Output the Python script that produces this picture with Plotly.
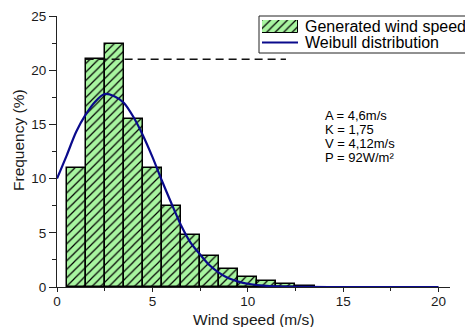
import plotly.graph_objects as go

# ---- data ----
bin_centers = [1, 2, 3, 4, 5, 6, 7, 8, 9, 10, 11, 12, 13]
frequency = [11.0, 21.0, 22.4, 15.5, 11.0, 7.5, 4.8, 2.9, 1.7, 0.95, 0.58, 0.25, 0.07]

curve_x = [0, 0.5, 1.0, 1.5, 2.0, 2.5, 3.0, 3.5, 4.0, 4.5, 5.0, 5.5, 6.0, 6.5, 7.0,
           7.5, 8.0, 8.5, 9.0, 9.5, 10, 11, 12, 13, 15, 20]
curve_y = [10.0, 12.1, 14.3, 15.9, 17.1, 17.8, 17.6, 17.0, 15.7, 14.0, 12.0, 9.8, 7.7,
           5.7, 4.1, 3.0, 2.0, 1.3, 0.8, 0.5, 0.3, 0.1, 0.04, 0.01, 0, 0]

ref_x = [1.5, 12.0]
ref_y = [21, 21]

legend_labels = ["Generated wind speed", "Weibull distribution"]
param_lines = ["A = 4,6m/s", "K = 1,75", "V = 4,12m/s", "P = 92W/m²"]
x_title = "Wind speed (m/s)"
y_title = "Frequency (%)"

# ---- layout geometry (pixels) ----
W, H = 465, 327
L, R, T, B = 57, 15, 16, 40
PW, PH = W - L - R, H - T - B


def px_x(p):
    return (p - L) / PW


def px_y(p):
    return (H - B - p) / PH


FONT = "Liberation Sans, Arial, sans-serif"
GREEN = "#A8F5A0"
NAVY = "#0A0A8C"

fig = go.Figure()

fig.add_trace(go.Bar(
    x=bin_centers, y=frequency, width=1.0,
    marker=dict(color=GREEN, line=dict(color="black", width=1.5),
                pattern=dict(shape="/", fgcolor="black", bgcolor=GREEN,
                             size=6, solidity=0.2, fillmode="replace")),
    showlegend=False,
))

fig.add_trace(go.Scatter(
    x=ref_x, y=ref_y, mode="lines",
    line=dict(color="#111111", width=1.5, dash="8px,5px"),
    showlegend=False,
))

fig.add_trace(go.Scatter(
    x=curve_x, y=curve_y, mode="lines",
    line=dict(color=NAVY, width=2.2, shape="spline", smoothing=0.8),
    showlegend=False,
))

# legend swatch (hatched bar) on its own small axes
sw_x0, sw_x1 = 262, 298
sw_y0, sw_y1 = 20, 33
fig.add_trace(go.Bar(
    x=[0], y=[1], width=1.0, xaxis="x2", yaxis="y2",
    marker=dict(color=GREEN, line=dict(color="black", width=1),
                pattern=dict(shape="/", fgcolor="black", bgcolor=GREEN,
                             size=6, solidity=0.2, fillmode="replace")),
    showlegend=False, hoverinfo="skip",
))

axis_common = dict(
    showline=True, linecolor="#222222", linewidth=1,
    showgrid=False, zeroline=False,
    ticks="outside", tickcolor="#222222", tickwidth=1,
    tickfont=dict(family=FONT, size=13.5, color="#1a1a1a"),
)

fig.update_layout(
    width=W, height=H,
    margin=dict(l=L, r=R, t=T, b=B, autoexpand=False),
    paper_bgcolor="white", plot_bgcolor="white",
    bargap=0,
    showlegend=False,
    xaxis=dict(range=[0, 20.6], tickmode="array", tickvals=[0, 5, 10, 15, 20],
               ticklen=4, ticklabelstandoff=-2,
               minor=dict(tickvals=[2.5, 7.5, 12.5, 17.5], ticks="outside",
                          ticklen=3, tickcolor="#222222"),
               **axis_common),
    yaxis=dict(range=[0, 25], tickmode="array", tickvals=[0, 5, 10, 15, 20, 25],
               ticklen=7,
               minor=dict(tickvals=[2.5, 7.5, 12.5, 17.5, 22.5], ticks="outside",
                          ticklen=4, tickcolor="#222222"),
               **axis_common),
    xaxis2=dict(domain=[px_x(sw_x0), px_x(sw_x1)], range=[-0.5, 0.5],
                anchor="y2", visible=False, fixedrange=True),
    yaxis2=dict(domain=[px_y(sw_y1), px_y(sw_y0)], range=[0, 1],
                anchor="x2", visible=False, fixedrange=True),
)

shapes = [
    # legend box
    dict(type="rect", xref="paper", yref="paper",
         x0=px_x(259), x1=px_x(480), y0=px_y(53), y1=px_y(16),
         line=dict(color="#222222", width=1), fillcolor="rgba(0,0,0,0)", layer="above"),
    # legend line swatch
    dict(type="line", xref="paper", yref="paper",
         x0=px_x(sw_x0), x1=px_x(sw_x1), y0=px_y(42.5), y1=px_y(42.5),
         line=dict(color=NAVY, width=2)),
]
fig.update_layout(shapes=shapes)

annotations = []
for lab, yc in zip(legend_labels, [26, 42.5]):
    annotations.append(dict(
        text=lab, xref="paper", yref="paper", x=px_x(303), y=px_y(yc),
        xanchor="left", yanchor="middle", showarrow=False,
        font=dict(family=FONT, size=16, color="black")))

for line, yc in zip(param_lines, [115, 129, 143, 157]):
    annotations.append(dict(
        text=line, xref="paper", yref="paper", x=px_x(323), y=px_y(yc),
        xanchor="left", yanchor="middle", showarrow=False,
        font=dict(family=FONT, size=13, color="black")))

annotations.append(dict(
    text=x_title, xref="paper", yref="paper", x=px_x(253), y=px_y(319.5),
    xanchor="center", yanchor="middle", showarrow=False,
    font=dict(family=FONT, size=15.5, color="#1a1a1a")))
annotations.append(dict(
    text=y_title, xref="paper", yref="paper", x=px_x(18), y=px_y(140),
    xanchor="center", yanchor="middle", showarrow=False, textangle=-90,
    font=dict(family=FONT, size=15.5, color="#1a1a1a")))
fig.update_layout(annotations=annotations)

fig.write_html("out.html")
